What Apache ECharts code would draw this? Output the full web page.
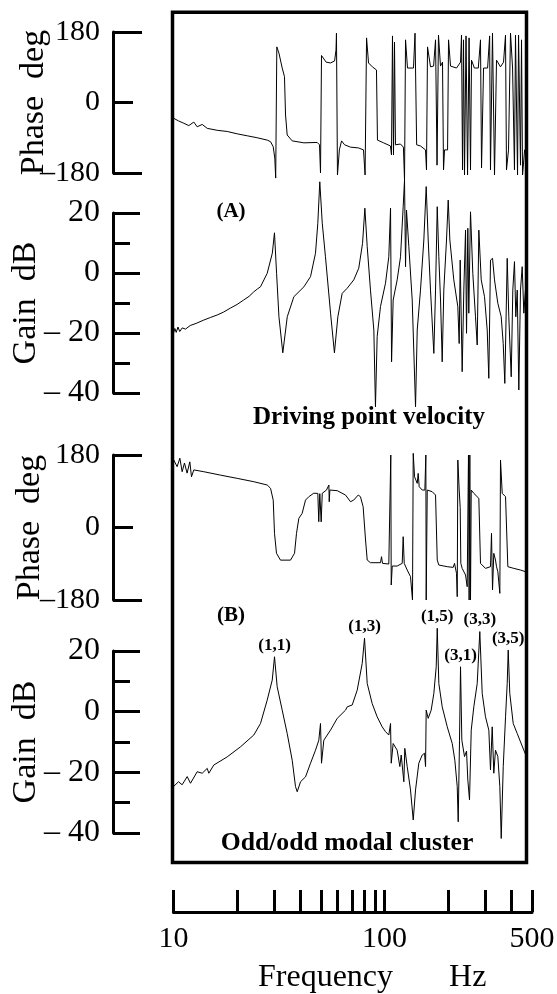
<!DOCTYPE html>
<html><head><meta charset="utf-8">
<script src="https://cdn.jsdelivr.net/npm/echarts@6/dist/echarts.min.js"></script>
<style>html,body{margin:0;padding:0;background:#fff}#c{width:557px;height:994px}</style>
</head><body><div id="c"></div>
<script>
// ---- data: [frequency Hz, value] ----
const phaseA = [[10.0,-40],[10.56,-47],[11.19,-53],[11.82,-59],[12.48,-50],[12.95,-62],[13.68,-56],[14.45,-66],[16.11,-71],[17.97,-74],[20.04,-80],[22.35,-85],[24.93,-90],[27.8,-96],[28.83,-100],[29.69,-113],[30.2,-142],[30.5,-193],[30.88,142],[31.6,126],[32.75,88],[33.57,66],[33.96,-32],[34.58,-83],[36.52,-98],[41.5,-103],[47.97,-102],[49.2,-108],[49.74,-180],[50.28,120],[50.8,115],[52.9,103],[55.5,101],[58.0,106],[58.9,134],[59.2,177],[59.85,-185],[61.1,-121],[62.6,-98],[64.7,-108],[69.0,-114],[75.3,-116],[79.5,-121],[80.9,-185],[82.2,165],[84.0,101],[87.6,91],[91.6,83],[92.6,-96],[99.0,-103],[106.7,-111],[107.9,-134],[109.1,170],[110.3,-134],[111.5,154],[112.7,-108],[119.0,-106],[122.9,-114],[124.4,-198],[125.8,160],[128.5,88],[137.2,88],[139.5,177],[142.0,-108],[148.1,-111],[156.4,-121],[158.1,-172],[159.9,142],[165.2,91],[170.9,93],[174.5,160],[177.4,-160],[180.2,172],[184.2,93],[188.3,103],[190.4,-172],[192.5,-121],[199.0,-121],[201.1,160],[205.5,93],[219.4,88],[229.2,103],[231.7,172],[234.3,-172],[236.8,160],[239.4,-185],[243.4,170],[247.5,-185],[251.6,165],[255.6,-172],[258.4,108],[266.7,88],[278.3,88],[285.0,160],[288.3,-167],[294.7,88],[308.0,88],[314.9,170],[317.8,-172],[324.9,177],[332.1,-185],[339.5,108],[354.6,91],[366.5,103],[374.5,172],[378.5,-172],[387.0,-121],[395.5,177],[404.5,88],[413.0,-172],[417.6,172],[427.0,-185],[431.8,172],[441.0,-160],[446.0,160],[451.0,-185],[461.2,-121],[471.2,-121]];

const gainA = [[10.0,-20],[10.15,-18.5],[10.3,-19.8],[10.5,-18],[10.7,-19.5],[11.0,-18.3],[11.4,-18.7],[12.0,-17.5],[12.8,-16.8],[13.9,-15.7],[15.0,-14.8],[16.1,-14],[17.3,-13],[18.6,-11.7],[20.0,-10.5],[21.5,-9],[22.8,-7.8],[24.0,-6.3],[25.0,-5.3],[25.84,-4.6],[27.8,-0.1],[29.4,6.6],[30.1,13.4],[30.8,-0.1],[31.6,-14.6],[32.96,-26.6],[34.6,-14.6],[37.2,-7.9],[41.5,-4.6],[44.6,-1.2],[47.1,6.6],[48.3,16.6],[49.35,30.4],[50.7,16.6],[52.5,5.4],[55.5,-13.4],[57.9,-26.6],[60.1,-14.6],[63.0,-6.8],[66.5,-5.1],[71.5,-2.3],[75.5,1.6],[78.7,9.9],[80.7,21.6],[82.8,8.8],[85.8,-5.7],[89.0,-19],[90.6,-44.6],[92.3,-21.2],[95.7,-11.2],[101.1,-3.4],[104.8,5.4],[106.8,21.6],[108.0,-29.6],[109.9,-9],[114.8,-2.3],[119.1,5.4],[122.6,22.1],[124.4,31],[125.8,2.1],[127.1,21],[130.4,8.8],[135.3,-9],[140.3,-44.6],[142.9,-19],[148.1,-5.7],[153.6,11],[157.6,28.8],[161.1,11],[165.2,-5.7],[171.3,-26.8],[174.5,-5.7],[177.8,22.1],[180.9,5.4],[184.3,-9],[187.7,-29.6],[191.0,-5.7],[196.7,11],[200.4,24.3],[204.0,11],[213.0,-2.3],[222.5,-11.2],[225.9,-23.5],[228.4,4.3],[233.4,-32.9],[237.6,-5.7],[242.1,14.3],[244.7,-20.1],[248.2,14.9],[250.9,-13.4],[255.6,20.4],[262.1,-0.1],[269.9,-14.6],[275.0,-24],[279.9,14.3],[287.3,-2.3],[297.8,-7.9],[306.7,-19],[312.1,-35.1],[317.9,4.3],[325.0,4.9],[332.1,-2.3],[344.4,-10.1],[357.3,-14.6],[365.2,-23.5],[371.7,-36.8],[381.5,4.9],[388.2,-14.6],[398.6,-34.6],[405.5,-5.7],[413.0,3.8],[419.0,-14.6],[425.6,-5.7],[433.0,-39],[441.0,-5.7],[449.3,2.1],[457.3,-13.4],[465.6,-5.7]];

const phaseB = [[10.03,167.6],[10.4,151],[10.72,172],[10.99,138.5],[11.27,160],[11.6,135],[11.95,163],[12.17,126],[12.48,143],[13.92,138.5],[16.7,130],[20.04,122],[24.02,113.7],[27.8,105.5],[28.83,97.3],[29.69,68],[30.11,-14.5],[30.77,-64],[32.14,-81],[35.85,-81],[37.46,-64],[38.28,-14.5],[39.26,22.8],[40.7,35],[42.23,68],[43.78,76.5],[46.2,85],[48.3,84.8],[48.8,14.4],[49.35,84],[50.1,14],[50.7,85],[53.1,93],[54.5,105.5],[54.7,64],[55.1,93],[59.7,91.4],[65.35,80.6],[69.0,64],[71.5,68.2],[75.05,80.6],[76.9,76.5],[79.2,51.7],[81.3,-31],[82.8,-80.8],[85.8,-87.4],[95.7,-87.4],[96.8,-72.5],[97.8,-89],[104.8,-90.7],[106.8,-92],[107.1,180],[107.6,-142.8],[108.8,-95.7],[114.8,-95.7],[121.3,-89],[122.6,-22.8],[124.0,-89],[128.1,-105.6],[132.8,-122.1],[135.7,-180],[136.8,184],[138.8,126],[142.9,109.6],[144.4,134.4],[146.0,101.3],[150.9,93],[155.3,93],[157.0,180],[157.6,-180],[159.4,93],[168.3,88.9],[174.5,80.6],[177.8,-80.8],[180.9,-93.2],[198.3,-97.3],[211.6,-99],[214.7,-89],[219.4,-113.9],[221.1,-171.8],[222.6,167.5],[225.9,93],[228.4,50],[230.0,-89],[233.4,-101.5],[242.1,-118],[246.5,-147],[250.0,180],[251.8,-180],[253.7,180],[255.6,-180],[257.6,93],[265.0,84.8],[279.9,72.4],[285.0,-89],[301.0,-101.5],[317.9,-97.3],[321.4,-14.5],[325.0,-155],[329.6,-64.2],[335.7,-80.8],[339.5,-97.3],[344.4,-109.7],[352.0,-163.5],[354.6,167.5],[361.3,84.8],[374.6,76.5],[384.1,-97.3],[410.1,-101.5],[441.0,-105.6],[465.6,-109.7]];

const gainB = [[10.0,-24.7],[10.56,-23.1],[10.99,-24.1],[11.61,-21.4],[12.04,-23.6],[12.95,-19.8],[13.68,-20.3],[14.45,-18.7],[14.7,-20.3],[15.52,-17.6],[17.97,-14.9],[20.77,-11.6],[24.02,-7.7],[25.84,-3.9],[27.8,3.8],[29.37,10.4],[30.11,18.1],[31.0,8.2],[32.75,0.5],[34.58,-7.2],[36.52,-16],[37.86,-24.7],[38.57,-26.4],[40.0,-23.1],[42.23,-21.5],[44.6,-17],[47.1,-12.7],[48.83,-9.4],[49.74,-3.9],[50.28,-17],[51.58,-9.4],[55.46,-6.1],[59.7,-2.2],[65.35,0.5],[66.56,1.6],[70.3,2.2],[74.24,7.1],[78.4,15.9],[80.4,24.2],[82.8,9.3],[87.4,2.7],[92.3,-1.7],[97.5,-5],[101.1,-6.6],[104.8,-7.7],[106.8,-3.9],[107.6,-17],[109.9,-10.5],[114.8,-12.7],[118.2,-18.1],[120.0,-14.3],[123.5,-23.1],[124.8,-12.1],[128.1,-18.1],[132.8,-25.8],[136.8,-35.7],[140.3,-25.8],[145.4,-17],[150.9,-14.3],[154.8,-13.7],[156.5,-18.1],[157.6,0.5],[161.1,-2.2],[166.4,0.5],[171.3,6],[175.8,14.8],[177.8,27.5],[180.9,9.3],[187.7,1.6],[198.3,-5],[209.4,-10.5],[215.4,-16],[221.1,-24.7],[223.5,-36.3],[226.7,-9.4],[229.2,14.8],[232.5,-9.4],[239.4,-14.8],[244.7,-13],[248.2,-22.5],[252.8,-29.1],[257.6,-6.1],[265.0,1.6],[275.0,9.3],[282.9,26.4],[290.4,6],[301.0,-1.7],[312.2,-6.1],[317.9,-19.2],[323.9,-5],[329.6,-20.3],[335.7,-12.7],[344.4,-14.8],[352.0,-24.7],[357.4,-41.8],[365.3,-18.1],[374.6,-1.7],[381.5,9.3],[385.7,20.3],[392.4,6],[407.3,-3.9],[425.5,-7.2],[457.3,-12.7],[474.6,-15.4]];

const modeLabels = ['(1,1)','(1,3)','(1,5)','(3,1)','(3,3)','(3,5)'];
const modePeaks = [[30.11,18.1],[80.4,24.2],[177.8,27.5],[229.2,14.8],[282.9,26.4],[385.7,20.3]];

const freqTicks = [10,20,30,40,50,60,70,80,90,100,200,300,400,500];
const freqLabels = [10,100,500];
const phaseEndTicks = [-180,180];
const phaseMidTicks = [0];

// ---- layout / style ----
const FONT = '"Liberation Serif","Times New Roman",serif';
const L = 173.5, W = 358.5, AXOFF = 60.5;
const BLACK = '#000';
function fmtPhase(v){ return v < 0 ? '\u2013' + Math.abs(v) : String(v); }
function fmtGain(v){ return v < 0 ? '\u2013 ' + Math.abs(v) : String(v); }

const panels = [
  {top:32,  h:141, kind:'phase', data:phaseA, name:'Phase  deg', gap:62},
  {top:213, h:180, kind:'gain',  data:gainA,  name:'Gain  dB',   gap:70},
  {top:455, h:145, kind:'phase', data:phaseB, name:'Phase  deg', gap:66},
  {top:651, h:182, kind:'gain',  data:gainB,  name:'Gain  dB',   gap:70}
];

const grid = [], xAxis = [], yAxis = [], series = [];
panels.forEach((p, i) => {
  grid.push({left:L, top:p.top, width:W, height:p.h, show:false, containLabel:false, outerBoundsMode:'none'});
  xAxis.push({gridIndex:i, type:'log', logBase:10, min:10, max:500, show:false});
  const tickStyle = {color:BLACK, width:3};
  const yi = yAxis.length;
  if (p.kind === 'phase') {
    yAxis.push({
      gridIndex:i, type:'value', min:-180, max:180, interval:180, position:'left', offset:AXOFF,
      axisLine:{show:true, lineStyle:{color:BLACK, width:3}},
      axisTick:{show:true, inside:true, length:29, customValues:phaseEndTicks, lineStyle:tickStyle},
      axisLabel:{formatter:fmtPhase, margin:13, fontSize:30, fontFamily:FONT, color:BLACK},
      splitLine:{show:false},
      name:p.name, nameLocation:'middle', nameGap:p.gap, nameMoveOverlap:false,
      nameTextStyle:{fontSize:34, fontFamily:FONT, color:BLACK}
    });
    yAxis.push({
      gridIndex:i, type:'value', min:-180, max:180, interval:180, position:'left', offset:AXOFF,
      axisLine:{show:false},
      axisTick:{show:true, inside:true, length:20, customValues:phaseMidTicks, lineStyle:tickStyle},
      axisLabel:{show:false}, splitLine:{show:false}
    });
  } else {
    yAxis.push({
      gridIndex:i, type:'value', min:-40, max:20, interval:20, position:'left', offset:AXOFF,
      axisLine:{show:true, lineStyle:{color:BLACK, width:3}},
      axisTick:{show:true, inside:true, length:27, lineStyle:tickStyle},
      minorTick:{show:true, splitNumber:2, length:17, lineStyle:tickStyle},
      axisLabel:{formatter:fmtGain, margin:13, fontSize:32, fontFamily:FONT, color:BLACK},
      splitLine:{show:false}, minorSplitLine:{show:false},
      name:p.name, nameLocation:'middle', nameGap:p.gap, nameMoveOverlap:false,
      nameTextStyle:{fontSize:34, fontFamily:FONT, color:BLACK}
    });
  }
  series.push({
    type:'line', xAxisIndex:i, yAxisIndex:yi, data:p.data,
    symbol:'none', showSymbol:false, clip:false, silent:true,
    lineStyle:{color:BLACK, width:1}, animation:false
  });
  if (i === 3) {
    series.push({
      type:'scatter', xAxisIndex:i, yAxisIndex:yi, clip:false, silent:true, animation:false,
      symbol:'circle', symbolSize:0, itemStyle:{color:BLACK, opacity:1},
      label:{show:true, position:'top', distance:3, formatter:'{b}', opacity:1,
             fontSize:17, fontWeight:'bold', fontFamily:FONT, color:BLACK},
      data: modeLabels.map((n, k) => ({name:n, value:modePeaks[k]}))
    });
  }
});

// frame box
grid.push({left:172.5, top:12.3, width:354, height:850.2, show:true, borderColor:BLACK, borderWidth:3.5,
           backgroundColor:'rgba(0,0,0,0)', containLabel:false, outerBoundsMode:'none'});
xAxis.push({gridIndex:4, type:'value', show:false});
yAxis.push({gridIndex:4, type:'value', show:false});

// frequency axis
grid.push({left:L, top:890, width:W, height:22, show:false, containLabel:false, outerBoundsMode:'none'});
xAxis.push({
  gridIndex:5, type:'log', logBase:10, min:10, max:500, position:'bottom',
  axisLine:{show:true, lineStyle:{color:BLACK, width:3}},
  axisTick:{show:true, inside:true, length:22, customValues:freqTicks, lineStyle:{color:BLACK, width:3}},
  minorTick:{show:false},
  axisLabel:{customValues:freqLabels, fontSize:30, fontFamily:FONT, color:BLACK, margin:12},
  splitLine:{show:false}
});
yAxis.push({gridIndex:5, type:'value', show:false});

const txt = (x, y, text, size, bold, align) => ({
  type:'text', x:x, y:y, silent:true,
  style:{text:text, fontSize:size, fontWeight:bold ? 'bold' : 'normal', fontFamily:FONT, fill:BLACK,
         align:align || 'center', verticalAlign:'middle', textAlign:align || 'center', textVerticalAlign:'middle'}
});

const option = {
  animation:false,
  backgroundColor:'#fff',
  grid, xAxis, yAxis, series,
  graphic:[
    txt(231, 212, '(A)', 21, true),
    txt(369, 418, 'Driving point velocity', 25, true),
    txt(347, 843, 'Odd/odd modal cluster', 25.7, true),
    txt(231, 616, '(B)', 21, true),
    txt(258, 978, 'Frequency       Hz', 32, false, 'left')
  ]
};
const chart = echarts.init(document.getElementById('c'));
chart.setOption(option);
</script></body></html>
